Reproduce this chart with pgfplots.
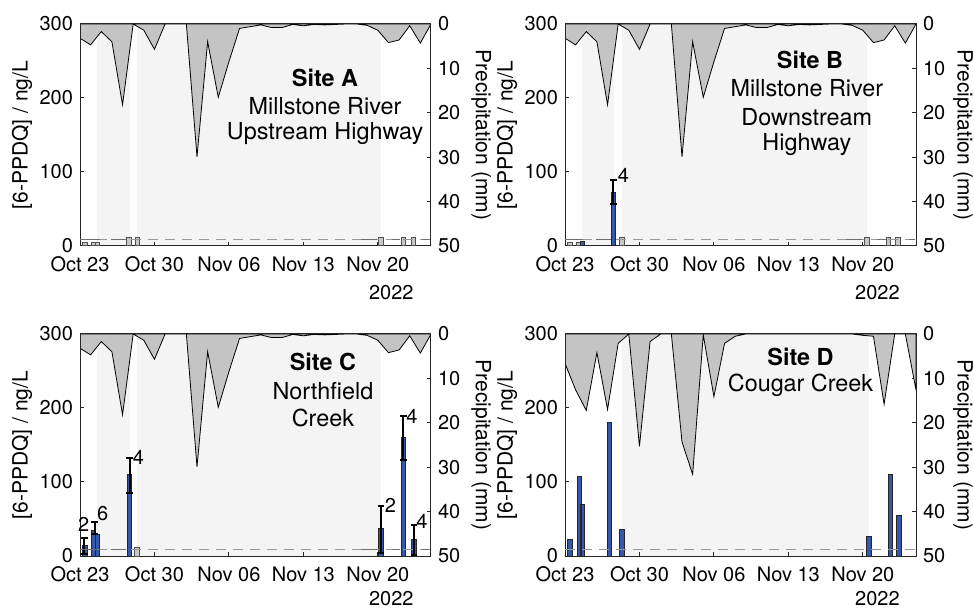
\documentclass[border=0pt]{standalone}
\usepackage{fontspec}
\setmainfont{TeX Gyre Heros}
\usepackage{pgfplots}
\pgfplotsset{compat=1.18}
\definecolor{axgray}{HTML}{262626}
\definecolor{shade}{HTML}{F4F4F4}
\definecolor{precipc}{HTML}{C4C4C4}
\definecolor{barblue}{HTML}{3558AD}
\definecolor{bargray}{HTML}{C8C8C8}
\definecolor{baredge}{HTML}{505050}
\definecolor{lodgray}{HTML}{999999}
\definecolor{loddark}{HTML}{6E6E6E}
\newcommand{\tfont}{\fontsize{10bp}{12bp}\selectfont}
\newcommand{\lfont}{\fontsize{10.5bp}{12bp}\selectfont}
\newcommand{\afont}{\fontsize{11.7bp}{14bp}\selectfont}
\pgfplotsset{
  base/.style={scale only axis, width=175.5bp, height=111bp, xmin=0, xmax=33,
    anchor=south west,
    tick align=inside, major tick length=2bp,
    axis line style={axgray, line width=0.5bp},
    every tick/.style={axgray, line width=0.5bp},
    tick label style={font=\tfont},
    /pgf/number format/assume math mode=true},
  precipax/.style={base, axis y line*=right, axis x line=none, ymin=0, ymax=50, y dir=reverse,
    ytick={0,10,20,30,40,50}, ylabel={Precipitation (mm)},
    ylabel style={font=\lfont, at={(axis description cs:#1,0.5)}, anchor=center, rotate=180}},
  precipax/.default=1.145,
  concax/.style={base, clip=false, ymin=0, ymax=300, ytick={0,100,200,300}, ytick pos=left,
    xtick={0,7,14,21,28}, xticklabels={Oct 23,Oct 30,Nov 06,Nov 13,Nov 20}, xtick pos=bottom,
    xticklabel style={yshift=-2bp},
    ylabel={[6-PPDQ] / ng/L},
    ylabel style={font=\lfont, at={(axis description cs:-0.165,0.5)}, anchor=center}},
  pfill/.style={fill=precipc, draw=black, line width=0.4bp},
  shd/.style={fill=shade, draw=none},
  bb/.style={ybar, bar width=0.42, bar shift=0pt, fill=barblue, draw=axgray, line width=0.5bp},
  bg/.style={ybar, bar width=0.42, bar shift=0pt, fill=bargray, draw=baredge, line width=0.5bp},
  eb/.style={forget plot, draw=none, mark=none, error bars/.cd, y dir=both, y explicit,
    error bar style={draw=black, line width=1bp, solid},
    error mark=-,
    error mark options={draw=black, rotate=90, line width=1bp, mark size=1.7bp}},
  lod/.style={lodgray, dash pattern=on 5bp off 3.5bp, line width=0.8bp},
  lodd/.style={loddark, line width=0.8bp},
}
\begin{document}
\begin{tikzpicture}
\path[use as bounding box] (0,0) rectangle (487bp,305bp);

% ================= Panel A =================
\begin{axis}[precipax=1.143, at={(40bp,182bp)}]
\addplot[shd] coordinates {(1.63,0) (4.66,0) (4.66,50) (1.63,50)} -- cycle;
\addplot[shd] coordinates {(5.38,0) (28.3,0) (28.3,50) (5.38,50)} -- cycle;
\addplot[pfill] coordinates {(0,3.2) (1,4.7) (2,1.7) (3,4.0) (4,18.2) (5,0) (6,1.4) (7,5.7) (8,0) (9,0) (10,0) (11,29.9) (12,4.0) (13,16.5) (14,8.5) (15,1.0) (16,0.6) (17,0.2) (18,0.8) (19,0.8) (20,0.1) (21,0.4) (22,0.1) (23,0.2) (24,0.1) (25,0) (26,0) (27,0.3) (28,1.4) (29,4.2) (30,3.6) (31,0.4) (32,4.3) (33,0)} \closedcycle;
\end{axis}
\begin{axis}[concax, at={(40bp,182bp)}]
\addplot[bg] coordinates {(0.47,4.6) (1.28,4.6) (1.66,4.6) (4.6,11.5) (5.4,11.5) (28.3,11.5) (30.4,11.5) (31.35,11.5)};
\addplot[lod] coordinates {(0,9) (33,9)};
\addplot[lodd] coordinates {(0,9) (1.9,9)};
\addplot[lodd] coordinates {(2.9,9) (4.35,9)};
\addplot[lodd] coordinates {(26.4,9) (27.9,9)};
\addplot[lodd] coordinates {(29.3,9) (30.1,9)};
\addplot[lodd] coordinates {(32.2,9) (32.8,9)};
\node[font=\afont\bfseries] at (rel axis cs:0.698,0.757) {Site A};
\node[font=\afont] at (rel axis cs:0.698,0.631) {Millstone River};
\node[font=\afont] at (rel axis cs:0.698,0.505) {Upstream Highway};
\node[font=\tfont] at (rel axis cs:0.887,0) [yshift=-23.5bp] {2022};
\end{axis}

% ================= Panel B =================
\begin{axis}[precipax=1.134, at={(282.5bp,182bp)}]
\addplot[shd] coordinates {(1.63,0) (4.64,0) (4.64,50) (1.63,50)} -- cycle;
\addplot[shd] coordinates {(5.34,0) (28.4,0) (28.4,50) (5.34,50)} -- cycle;
\addplot[pfill] coordinates {(0,3.2) (1,4.7) (2,1.7) (3,4.0) (4,18.2) (5,0) (6,1.4) (7,5.7) (8,0) (9,0) (10,0) (11,29.9) (12,4.0) (13,16.5) (14,8.5) (15,1.0) (16,0.6) (17,0.2) (18,0.8) (19,0.8) (20,0.1) (21,0.4) (22,0.1) (23,0.2) (24,0.1) (25,0) (26,0) (27,0.3) (28,1.4) (29,4.2) (30,3.6) (31,0.4) (32,4.3) (33,0)} \closedcycle;
\end{axis}
\begin{axis}[concax, at={(282.5bp,182bp)}]
\addplot[bg] coordinates {(0.45,4.6) (1.28,4.6) (5.35,11.5) (28.4,11.5) (30.4,11.5) (31.3,11.5)};
\addplot[bb] coordinates {(1.66,6.4) (4.55,72)};
\addplot[eb] coordinates {(4.55,72) += (0,16.8) -= (0,15.6)};
\addplot[lod] coordinates {(0,9) (33,9)};
\addplot[lodd] coordinates {(0,9) (1.7,9)};
\addplot[lodd] coordinates {(2.9,9) (4.35,9)};
\addplot[lodd] coordinates {(26.4,9) (27.9,9)};
\addplot[lodd] coordinates {(29.3,9) (30.2,9)};
\addplot[lodd] coordinates {(32.3,9) (32.9,9)};
\node[font=\tfont] at (axis cs:5.49,95.5) {4};
\node[font=\afont\bfseries] at (rel axis cs:0.698,0.838) {Site B};
\node[font=\afont] at (rel axis cs:0.689,0.712) {Millstone River};
\node[font=\afont] at (rel axis cs:0.689,0.581) {Downstream};
\node[font=\afont] at (rel axis cs:0.689,0.455) {Highway};
\node[font=\tfont] at (rel axis cs:0.89,0) [yshift=-23.5bp] {2022};
\end{axis}

% ================= Panel C =================
\begin{axis}[precipax=1.143, at={(40bp,27bp)}]
\addplot[shd] coordinates {(1.63,0) (4.66,0) (4.66,50) (1.63,50)} -- cycle;
\addplot[shd] coordinates {(5.38,0) (28.3,0) (28.3,50) (5.38,50)} -- cycle;
\addplot[pfill] coordinates {(0,3.2) (1,4.7) (2,1.7) (3,4.0) (4,18.2) (5,0) (6,1.4) (7,5.7) (8,0) (9,0) (10,0) (11,29.9) (12,4.0) (13,16.5) (14,8.5) (15,1.0) (16,0.6) (17,0.2) (18,0.8) (19,0.8) (20,0.1) (21,0.4) (22,0.1) (23,0.2) (24,0.1) (25,0) (26,0) (27,0.3) (28,1.4) (29,4.2) (30,3.6) (31,0.4) (32,4.3) (33,0)} \closedcycle;
\end{axis}
\begin{axis}[concax, at={(40bp,27bp)}]
\addplot[bg] coordinates {(5.38,11.5)};
\addplot[bb] coordinates {(0.45,14.5) (1.28,35) (1.66,29) (4.66,110) (28.3,37) (30.4,160) (31.4,22.6)};
\addplot[eb] coordinates {(0.4,14.5) += (0,9.9) -= (0,11.3)};
\addplot[eb] coordinates {(1.38,35) += (0,11) -= (0,5)};
\addplot[eb] coordinates {(4.66,110) += (0,22.6) -= (0,24.2)};
\addplot[eb] coordinates {(28.3,37) += (0,30.7) -= (0,32.4)};
\addplot[eb] coordinates {(30.4,160) += (0,29) -= (0,30.5)};
\addplot[eb] coordinates {(31.4,22.6) += (0,19.9) -= (0,20.7)};
\addplot[lod] coordinates {(0,9) (33,9)};
\addplot[lodd] coordinates {(0,9) (1.9,9)};
\addplot[lodd] coordinates {(2.9,9) (4.35,9)};
\addplot[lodd] coordinates {(26.4,9) (27.9,9)};
\addplot[lodd] coordinates {(29.3,9) (30.1,9)};
\addplot[lodd] coordinates {(32.2,9) (32.8,9)};
\node[font=\tfont] at (axis cs:0.35,42.9) {2};
\node[font=\tfont] at (axis cs:2.13,57.1) {6};
\node[font=\tfont] at (axis cs:5.5,133.6) {4};
\node[font=\tfont] at (axis cs:29.18,68.6) {2};
\node[font=\tfont] at (axis cs:31.2,189.3) {4};
\node[font=\tfont] at (axis cs:32.15,47.2) {4};
\node[font=\afont\bfseries] at (rel axis cs:0.692,0.874) {Site C};
\node[font=\afont] at (rel axis cs:0.692,0.745) {Northfield};
\node[font=\afont] at (rel axis cs:0.692,0.622) {Creek};
\node[font=\tfont] at (rel axis cs:0.887,0) [yshift=-21.5bp] {2022};
\end{axis}

% ================= Panel D =================
\begin{axis}[precipax=1.134, at={(282.5bp,27bp)}]
\addplot[shd] coordinates {(5.34,0) (28.6,0) (28.6,50) (5.34,50)} -- cycle;
\addplot[pfill] coordinates {(0,6.6) (1,12.6) (2,17.2) (3,4.2) (4,17.0) (5,2.1) (6,0) (7,25.3) (8,1.7) (9,0) (10,0) (11,24.3) (12,31.6) (13,0.2) (14,14.1) (15,2.1) (16,0.5) (17,0) (18,0) (19,0) (20,0) (21,0) (22,0) (23,0) (24,0) (25,0) (26,0) (27,0) (28,0.3) (29,0.5) (30,15.8) (31,0) (32,0) (33,12.6)} \closedcycle;
\end{axis}
\begin{axis}[concax, at={(282.5bp,27bp)}]
\addplot[bb] coordinates {(0.47,22.2) (1.35,108) (1.63,69.5) (4.19,180) (5.35,35.7) (28.6,26.7) (30.6,110) (31.4,55)};
\addplot[lod] coordinates {(0,9) (33,9)};
\node[font=\afont\bfseries] at (rel axis cs:0.671,0.896) {Site D};
\node[font=\afont] at (rel axis cs:0.671,0.770) {Cougar Creek};
\node[font=\tfont] at (rel axis cs:0.89,0) [yshift=-21.5bp] {2022};
\end{axis}
\end{tikzpicture}
\end{document}
